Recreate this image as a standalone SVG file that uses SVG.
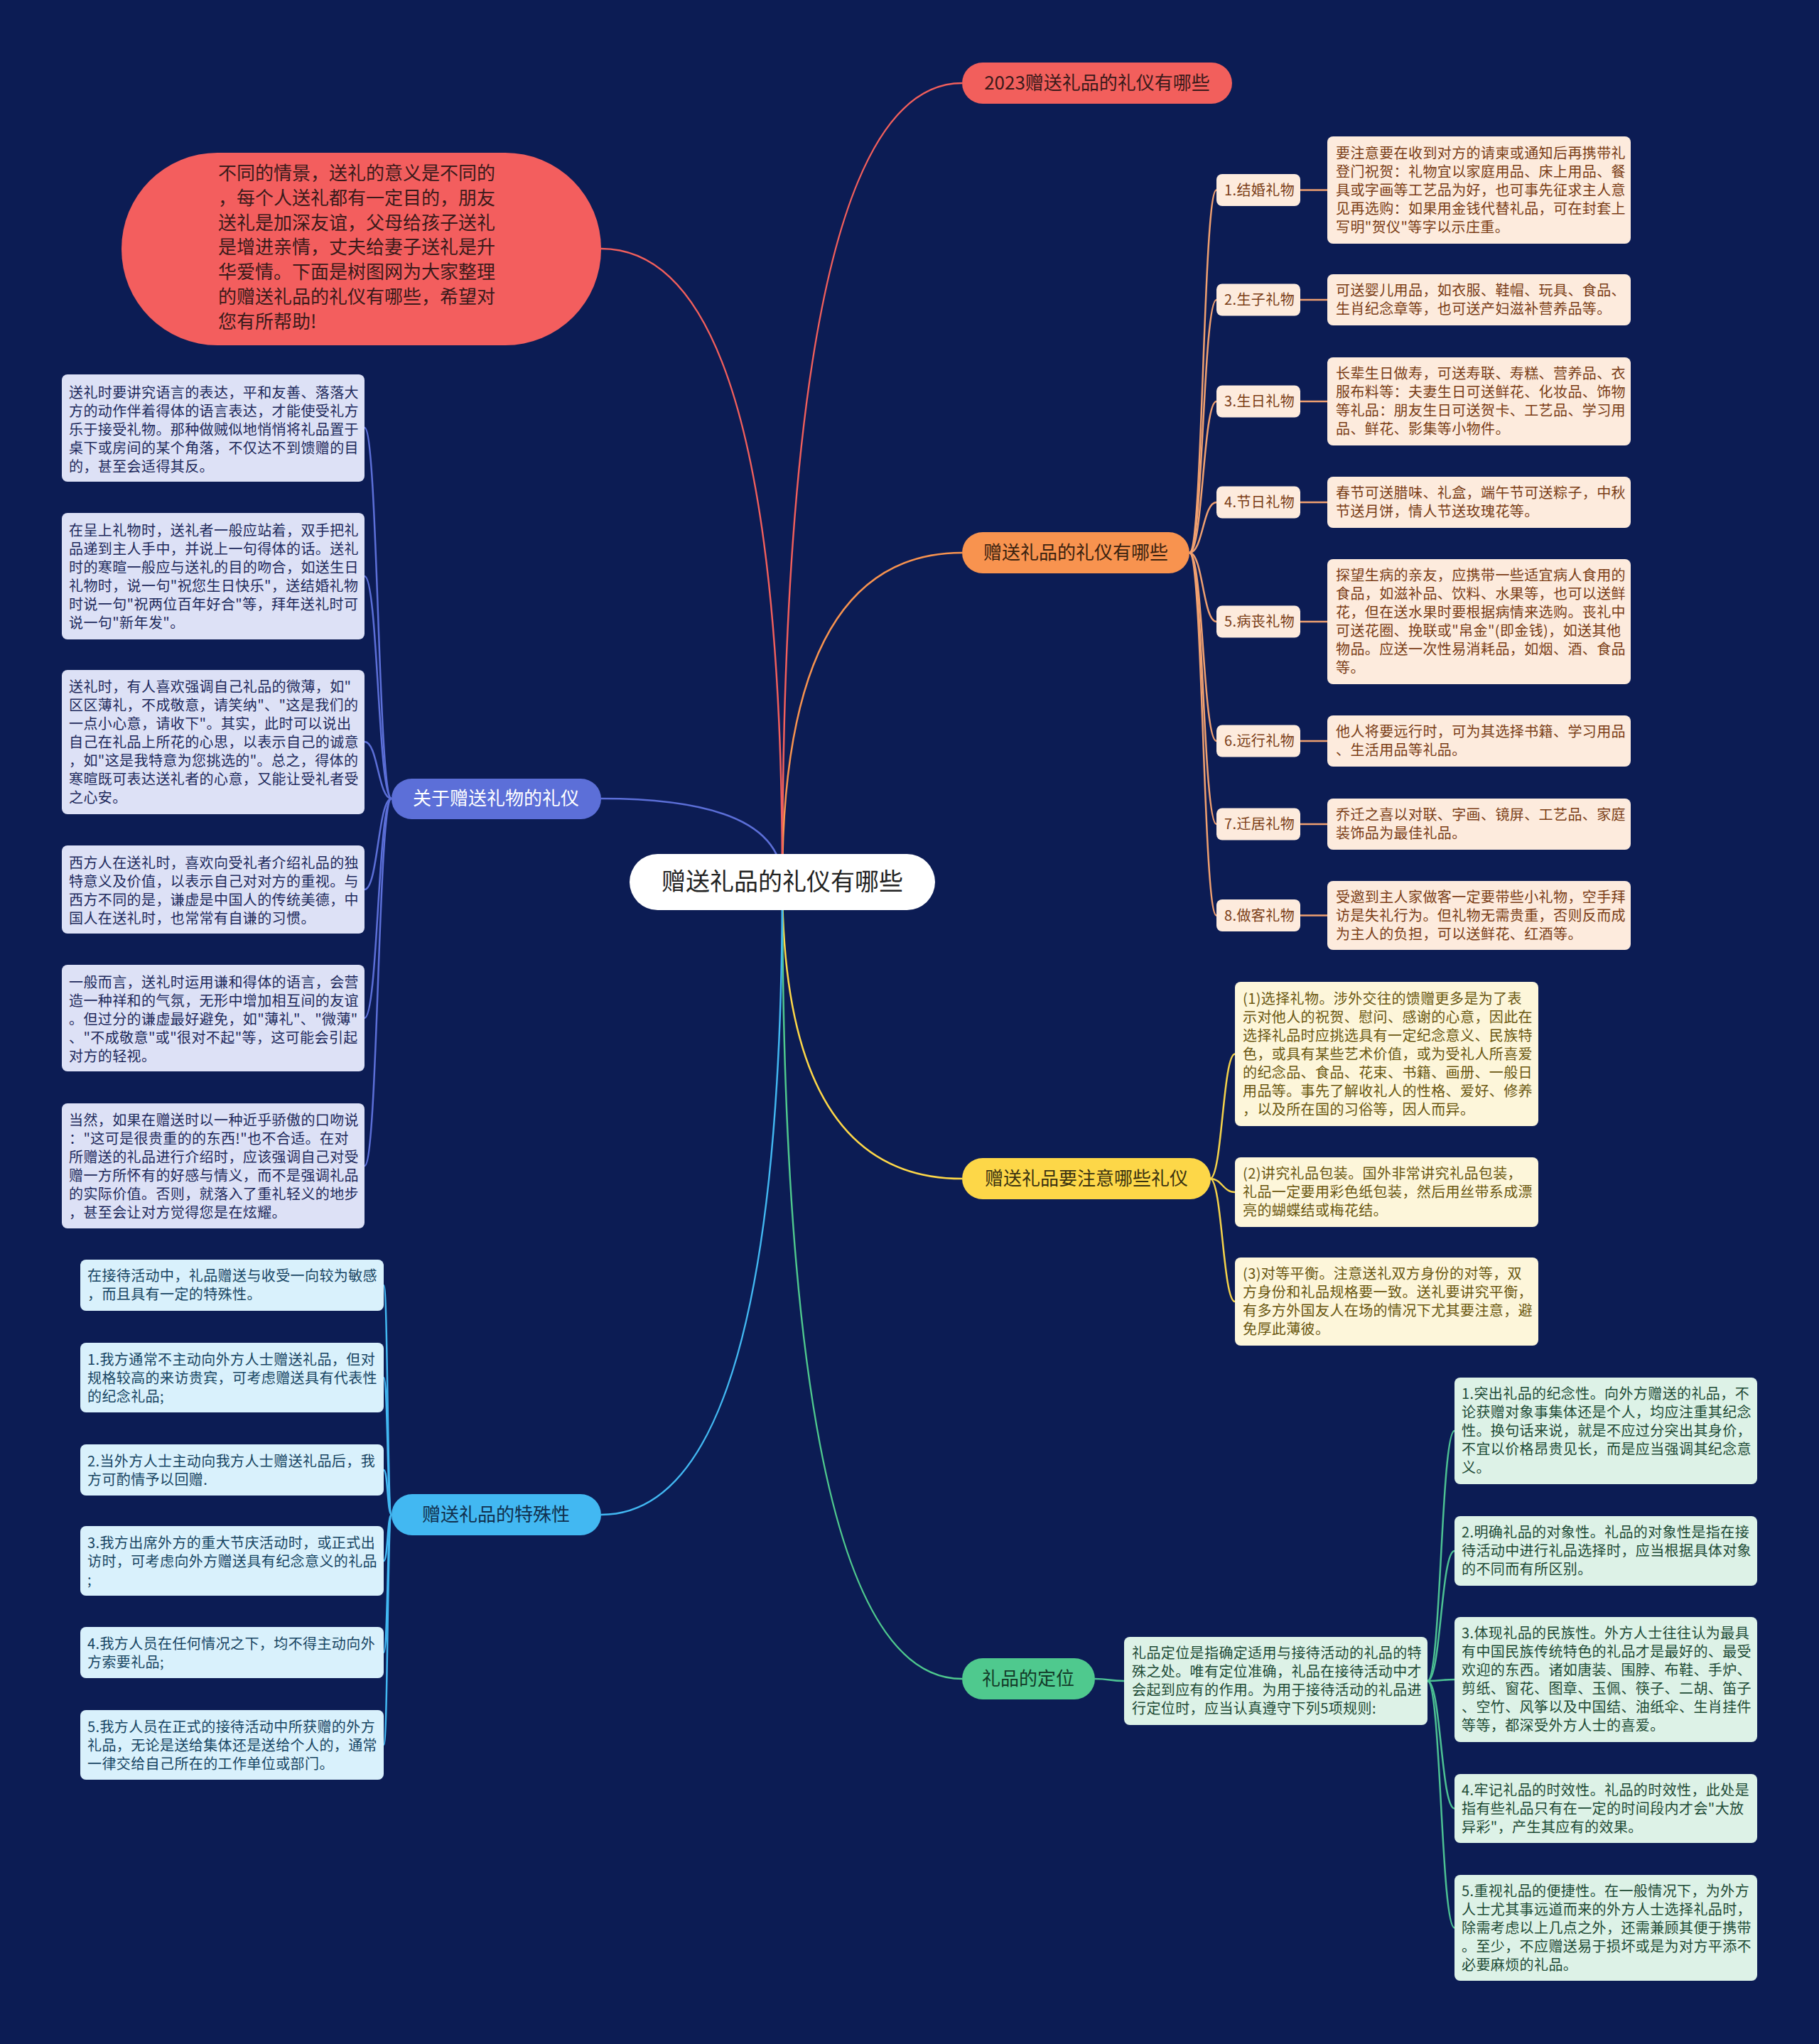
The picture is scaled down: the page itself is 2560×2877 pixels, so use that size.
<svg xmlns="http://www.w3.org/2000/svg" width="2560" height="2877" viewBox="0 0 2560 2877">
<style>
text{font-family:"Noto Sans CJK SC","Noto Sans",sans-serif;}
.t20{font-size:20px;letter-spacing:0.4px;}
.t26{font-size:26px;}
.lv{fill:#DDE1F6;}
.lvt{fill:#1E2A5C;}
.cy{fill:#D9F1FC;}
.cyt{fill:#174563;}
.pe{fill:#FDEBDD;}
.pet{fill:#7A3D16;}
.ye{fill:#FDF6DA;}
.yet{fill:#6A5710;}
.gr{fill:#DDF2E7;}
.grt{fill:#1E4B36;}
.cn{fill:none;stroke-width:2.5;}
</style>
<rect x="0" y="0" width="2560" height="2877" fill="#0C1C54"/>

<g id="connectors">
  <path class="cn" stroke="#F25F5C" d="M1101 1241 Q1101 117 1354 117"/>
  <path class="cn" stroke="#F8934F" d="M1101 1241 Q1101 778 1354 778"/>
  <path class="cn" stroke="#FDD748" d="M1101 1241 Q1101 1659 1354 1659"/>
  <path class="cn" stroke="#4FC98E" d="M1101 1241 Q1101 2363 1354 2363"/>
  <path class="cn" stroke="#5C6FD8" d="M1101 1241 Q1101 1124 846 1124"/>
  <path class="cn" stroke="#42B8F2" d="M1101 1241 Q1101 2132 846 2132"/>
  <path class="cn" stroke="#F25F5C" d="M1101 1241 Q1101 350 846 350"/>

  <g stroke="#5C6FD8" class="cn">
    <path class="cn" d="M551 1124 C532 1124 532 602 513 602"/>
    <path class="cn" d="M551 1124 C532 1124 532 811 513 811"/>
    <path class="cn" d="M551 1124 C532 1124 532 1044 513 1044"/>
    <path class="cn" d="M551 1124 C532 1124 532 1252 513 1252"/>
    <path class="cn" d="M551 1124 C532 1124 532 1433 513 1433"/>
    <path class="cn" d="M551 1124 C532 1124 532 1641 513 1641"/>
  </g>
  <g stroke="#42B8F2" class="cn">
    <path class="cn" d="M551 2132 C545 2132 546 1809 540 1809"/>
    <path class="cn" d="M551 2132 C545 2132 546 1939 540 1939"/>
    <path class="cn" d="M551 2132 C545 2132 546 2069 540 2069"/>
    <path class="cn" d="M551 2132 C545 2132 546 2197 540 2197"/>
    <path class="cn" d="M551 2132 C545 2132 546 2326 540 2326"/>
    <path class="cn" d="M551 2132 C545 2132 546 2456 540 2456"/>
  </g>
  <g stroke="#F0A070" class="cn">
    <path class="cn" d="M1674 778 C1693 778 1693 267.5 1712 267.5"/>
    <path class="cn" d="M1674 778 C1693 778 1693 422 1712 422"/>
    <path class="cn" d="M1674 778 C1693 778 1693 565 1712 565"/>
    <path class="cn" d="M1674 778 C1693 778 1693 707 1712 707"/>
    <path class="cn" d="M1674 778 C1693 778 1693 875 1712 875"/>
    <path class="cn" d="M1674 778 C1693 778 1693 1043 1712 1043"/>
    <path class="cn" d="M1674 778 C1693 778 1693 1160 1712 1160"/>
    <path class="cn" d="M1674 778 C1693 778 1693 1288.5 1712 1288.5"/>
    <path class="cn" stroke-width="3.5" d="M1830 267.5 H1868 M1830 422 H1868 M1830 565 H1868 M1830 707 H1868 M1830 875 H1868 M1830 1043 H1868 M1830 1160 H1868 M1830 1288.5 H1868"/>
  </g>
  <g stroke="#F4D24A" class="cn">
    <path class="cn" d="M1703 1659 C1720 1659 1721 1483.5 1738 1483.5"/>
    <path class="cn" d="M1703 1659 C1720 1659 1721 1678 1738 1678"/>
    <path class="cn" d="M1703 1659 C1720 1659 1721 1832 1738 1832"/>
  </g>
  <g stroke="#4CC193" class="cn">
    <path class="cn" d="M1541 2363 C1561 2363 1562 2366 1582 2366"/>
    <path class="cn" d="M2009 2366 C2028 2366 2028 2014 2047 2014"/>
    <path class="cn" d="M2009 2366 C2028 2366 2028 2183 2047 2183"/>
    <path class="cn" d="M2009 2366 C2028 2366 2028 2364 2047 2364"/>
    <path class="cn" d="M2009 2366 C2028 2366 2028 2545.5 2047 2545.5"/>
    <path class="cn" d="M2009 2366 C2028 2366 2028 2713.5 2047 2713.5"/>
  </g>
</g>

<g id="root">
  <rect x="886" y="1202" width="430" height="79" rx="39.5" fill="#FFFFFF"/>
  <text x="1101" y="1253" font-size="34" fill="#222222" text-anchor="middle">赠送礼品的礼仪有哪些</text>
</g>

<g id="intro">
  <rect x="171" y="215" width="675" height="271" rx="135" fill="#F35E5E"/>
  <text class="t26" fill="#3A1A1A">
    <tspan x="307" y="253">不同的情景，送礼的意义是不同的</tspan>
    <tspan x="307" y="288">，每个人送礼都有一定目的，朋友</tspan>
    <tspan x="307" y="323">送礼是加深友谊，父母给孩子送礼</tspan>
    <tspan x="307" y="357">是增进亲情，丈夫给妻子送礼是升</tspan>
    <tspan x="307" y="392">华爱情。下面是树图网为大家整理</tspan>
    <tspan x="307" y="427">的赠送礼品的礼仪有哪些，希望对</tspan>
    <tspan x="307" y="462">您有所帮助!</tspan>
  </text>
</g>

<g id="b-2023">
  <rect x="1354" y="88" width="380" height="58" rx="29" fill="#F25F5C"/>
  <text class="t26" x="1544" y="126" fill="#3A1A1A" text-anchor="middle">2023赠送礼品的礼仪有哪些</text>
</g>
<g id="b-etiquette">
  <rect x="1354" y="749" width="320" height="58" rx="29" fill="#F8934F"/>
  <text class="t26" x="1514" y="787" fill="#3A220F" text-anchor="middle">赠送礼品的礼仪有哪些</text>
</g>
<g id="b-attention">
  <rect x="1354" y="1630" width="350" height="58" rx="29" fill="#FDD748"/>
  <text class="t26" x="1529" y="1668" fill="#3A3210" text-anchor="middle">赠送礼品要注意哪些礼仪</text>
</g>
<g id="b-position">
  <rect x="1354" y="2334" width="187" height="58" rx="29" fill="#4FC98E"/>
  <text class="t26" x="1447" y="2372" fill="#123A28" text-anchor="middle">礼品的定位</text>
</g>
<g id="b-about">
  <rect x="551" y="1096" width="295" height="57" rx="28.5" fill="#5C6FD8"/>
  <text class="t26" x="698" y="1133" fill="#FFFFFF" text-anchor="middle">关于赠送礼物的礼仪</text>
</g>
<g id="b-special">
  <rect x="551" y="2103" width="295" height="58" rx="29" fill="#42B8F2"/>
  <text class="t26" x="698" y="2141" fill="#10304E" text-anchor="middle">赠送礼品的特殊性</text>
</g>

<g id="about-1"><rect class="lv" x="87" y="527" width="426" height="151" rx="8"/>
<text class="t20 lvt"><tspan x="97" y="560">送礼时要讲究语言的表达，平和友善、落落大</tspan><tspan x="97" y="586">方的动作伴着得体的语言表达，才能使受礼方</tspan><tspan x="97" y="612">乐于接受礼物。那种做贼似地悄悄将礼品置于</tspan><tspan x="97" y="638">桌下或房间的某个角落，不仅达不到馈赠的目</tspan><tspan x="97" y="664">的，甚至会适得其反。</tspan></text></g>
<g id="about-2"><rect class="lv" x="87" y="722" width="426" height="178" rx="8"/>
<text class="t20 lvt"><tspan x="97" y="754">在呈上礼物时，送礼者一般应站着，双手把礼</tspan><tspan x="97" y="780">品递到主人手中，并说上一句得体的话。送礼</tspan><tspan x="97" y="806">时的寒暄一般应与送礼的目的吻合，如送生日</tspan><tspan x="97" y="832">礼物时，说一句"祝您生日快乐"，送结婚礼物</tspan><tspan x="97" y="858">时说一句"祝两位百年好合"等，拜年送礼时可</tspan><tspan x="97" y="884">说一句"新年发"。</tspan></text></g>
<g id="about-3"><rect class="lv" x="87" y="943" width="426" height="203" rx="8"/>
<text class="t20 lvt"><tspan x="97" y="974">送礼时，有人喜欢强调自己礼品的微薄，如"</tspan><tspan x="97" y="1000">区区薄礼，不成敬意，请笑纳"、"这是我们的</tspan><tspan x="97" y="1026">一点小心意，请收下"。其实，此时可以说出</tspan><tspan x="97" y="1052">自己在礼品上所花的心思，以表示自己的诚意</tspan><tspan x="97" y="1078">，如"这是我特意为您挑选的"。总之，得体的</tspan><tspan x="97" y="1104">寒暄既可表达送礼者的心意，又能让受礼者受</tspan><tspan x="97" y="1130">之心安。</tspan></text></g>
<g id="about-4"><rect class="lv" x="87" y="1190" width="426" height="124" rx="8"/>
<text class="t20 lvt"><tspan x="97" y="1222">西方人在送礼时，喜欢向受礼者介绍礼品的独</tspan><tspan x="97" y="1248">特意义及价值，以表示自己对对方的重视。与</tspan><tspan x="97" y="1274">西方不同的是，谦虚是中国人的传统美德，中</tspan><tspan x="97" y="1300">国人在送礼时，也常常有自谦的习惯。</tspan></text></g>
<g id="about-5"><rect class="lv" x="87" y="1358" width="426" height="150" rx="8"/>
<text class="t20 lvt"><tspan x="97" y="1390">一般而言，送礼时运用谦和得体的语言，会营</tspan><tspan x="97" y="1416">造一种祥和的气氛，无形中增加相互间的友谊</tspan><tspan x="97" y="1442">。但过分的谦虚最好避免，如"薄礼"、"微薄"</tspan><tspan x="97" y="1468">、"不成敬意"或"很对不起"等，这可能会引起</tspan><tspan x="97" y="1494">对方的轻视。</tspan></text></g>
<g id="about-6"><rect class="lv" x="87" y="1553" width="426" height="176" rx="8"/>
<text class="t20 lvt"><tspan x="97" y="1584">当然，如果在赠送时以一种近乎骄傲的口吻说</tspan><tspan x="97" y="1610">："这可是很贵重的的东西!"也不合适。在对</tspan><tspan x="97" y="1636">所赠送的礼品进行介绍时，应该强调自己对受</tspan><tspan x="97" y="1662">赠一方所怀有的好感与情义，而不是强调礼品</tspan><tspan x="97" y="1688">的实际价值。否则，就落入了重礼轻义的地步</tspan><tspan x="97" y="1714">，甚至会让对方觉得您是在炫耀。</tspan></text></g>

<g id="special-0"><rect class="cy" x="113" y="1773" width="427" height="72" rx="8"/>
<text class="t20 cyt"><tspan x="123" y="1803">在接待活动中，礼品赠送与收受一向较为敏感</tspan><tspan x="123" y="1829">，而且具有一定的特殊性。</tspan></text></g>
<g id="special-1"><rect class="cy" x="113" y="1890" width="427" height="98" rx="8"/>
<text class="t20 cyt"><tspan x="123" y="1921">1.我方通常不主动向外方人士赠送礼品，但对</tspan><tspan x="123" y="1947">规格较高的来访贵宾，可考虑赠送具有代表性</tspan><tspan x="123" y="1973">的纪念礼品;</tspan></text></g>
<g id="special-2"><rect class="cy" x="113" y="2033" width="427" height="72" rx="8"/>
<text class="t20 cyt"><tspan x="123" y="2064">2.当外方人士主动向我方人士赠送礼品后，我</tspan><tspan x="123" y="2090">方可酌情予以回赠.</tspan></text></g>
<g id="special-3"><rect class="cy" x="113" y="2148" width="427" height="98" rx="8"/>
<text class="t20 cyt"><tspan x="123" y="2179">3.我方出席外方的重大节庆活动时，或正式出</tspan><tspan x="123" y="2205">访时，可考虑向外方赠送具有纪念意义的礼品</tspan><tspan x="123" y="2231">;</tspan></text></g>
<g id="special-4"><rect class="cy" x="113" y="2290" width="427" height="72" rx="8"/>
<text class="t20 cyt"><tspan x="123" y="2321">4.我方人员在任何情况之下，均不得主动向外</tspan><tspan x="123" y="2347">方索要礼品;</tspan></text></g>
<g id="special-5"><rect class="cy" x="113" y="2407" width="427" height="98" rx="8"/>
<text class="t20 cyt"><tspan x="123" y="2438">5.我方人员在正式的接待活动中所获赠的外方</tspan><tspan x="123" y="2464">礼品，无论是送给集体还是送给个人的，通常</tspan><tspan x="123" y="2490">一律交给自己所在的工作单位或部门。</tspan></text></g>

<g id="label-1"><rect class="pe" x="1712" y="245" width="118" height="45" rx="8"/><text class="t20 pet" x="1723" y="274.5">1.结婚礼物</text></g>
<g id="label-2"><rect class="pe" x="1712" y="399.5" width="118" height="45" rx="8"/><text class="t20 pet" x="1723" y="429">2.生子礼物</text></g>
<g id="label-3"><rect class="pe" x="1712" y="542.5" width="118" height="45" rx="8"/><text class="t20 pet" x="1723" y="572">3.生日礼物</text></g>
<g id="label-4"><rect class="pe" x="1712" y="684.5" width="118" height="45" rx="8"/><text class="t20 pet" x="1723" y="714">4.节日礼物</text></g>
<g id="label-5"><rect class="pe" x="1712" y="852.5" width="118" height="45" rx="8"/><text class="t20 pet" x="1723" y="882">5.病丧礼物</text></g>
<g id="label-6"><rect class="pe" x="1712" y="1020.5" width="118" height="45" rx="8"/><text class="t20 pet" x="1723" y="1050">6.远行礼物</text></g>
<g id="label-7"><rect class="pe" x="1712" y="1137.5" width="118" height="45" rx="8"/><text class="t20 pet" x="1723" y="1167">7.迁居礼物</text></g>
<g id="label-8"><rect class="pe" x="1712" y="1266" width="118" height="45" rx="8"/><text class="t20 pet" x="1723" y="1295.5">8.做客礼物</text></g>

<g id="detail-1"><rect class="pe" x="1868" y="192" width="427" height="151" rx="8"/>
<text class="t20 pet"><tspan x="1880" y="223">要注意要在收到对方的请柬或通知后再携带礼</tspan><tspan x="1880" y="249">登门祝贺：礼物宜以家庭用品、床上用品、餐</tspan><tspan x="1880" y="275">具或字画等工艺品为好，也可事先征求主人意</tspan><tspan x="1880" y="301">见再选购：如果用金钱代替礼品，可在封套上</tspan><tspan x="1880" y="327">写明"贺仪"等字以示庄重。</tspan></text></g>
<g id="detail-2"><rect class="pe" x="1868" y="386" width="427" height="72" rx="8"/>
<text class="t20 pet"><tspan x="1880" y="416">可送婴儿用品，如衣服、鞋帽、玩具、食品、</tspan><tspan x="1880" y="442">生肖纪念章等，也可送产妇滋补营养品等。</tspan></text></g>
<g id="detail-3"><rect class="pe" x="1868" y="503" width="427" height="124" rx="8"/>
<text class="t20 pet"><tspan x="1880" y="533">长辈生日做寿，可送寿联、寿糕、营养品、衣</tspan><tspan x="1880" y="559">服布料等：夫妻生日可送鲜花、化妆品、饰物</tspan><tspan x="1880" y="585">等礼品：朋友生日可送贺卡、工艺品、学习用</tspan><tspan x="1880" y="611">品、鲜花、影集等小物件。</tspan></text></g>
<g id="detail-4"><rect class="pe" x="1868" y="671" width="427" height="72" rx="8"/>
<text class="t20 pet"><tspan x="1880" y="701">春节可送腊味、礼盒，端午节可送粽子，中秋</tspan><tspan x="1880" y="727">节送月饼，情人节送玫瑰花等。</tspan></text></g>
<g id="detail-5"><rect class="pe" x="1868" y="787" width="427" height="176" rx="8"/>
<text class="t20 pet"><tspan x="1880" y="817">探望生病的亲友，应携带一些适宜病人食用的</tspan><tspan x="1880" y="843">食品，如滋补品、饮料、水果等，也可以送鲜</tspan><tspan x="1880" y="869">花，但在送水果时要根据病情来选购。丧礼中</tspan><tspan x="1880" y="895">可送花圈、挽联或"帛金"(即金钱)，如送其他</tspan><tspan x="1880" y="921">物品。应送一次性易消耗品，如烟、酒、食品</tspan><tspan x="1880" y="947">等。</tspan></text></g>
<g id="detail-6"><rect class="pe" x="1868" y="1007" width="427" height="72" rx="8"/>
<text class="t20 pet"><tspan x="1880" y="1037">他人将要远行时，可为其选择书籍、学习用品</tspan><tspan x="1880" y="1063">、生活用品等礼品。</tspan></text></g>
<g id="detail-7"><rect class="pe" x="1868" y="1124" width="427" height="72" rx="8"/>
<text class="t20 pet"><tspan x="1880" y="1154">乔迁之喜以对联、字画、镜屏、工艺品、家庭</tspan><tspan x="1880" y="1180">装饰品为最佳礼品。</tspan></text></g>
<g id="detail-8"><rect class="pe" x="1868" y="1240" width="427" height="97" rx="8"/>
<text class="t20 pet"><tspan x="1880" y="1270">受邀到主人家做客一定要带些小礼物，空手拜</tspan><tspan x="1880" y="1296">访是失礼行为。但礼物无需贵重，否则反而成</tspan><tspan x="1880" y="1322">为主人的负担，可以送鲜花、红酒等。</tspan></text></g>

<g id="attn-1"><rect class="ye" x="1738" y="1382" width="427" height="203" rx="8"/>
<text class="t20 yet"><tspan x="1749" y="1413">(1)选择礼物。涉外交往的馈赠更多是为了表</tspan><tspan x="1749" y="1439">示对他人的祝贺、慰问、感谢的心意，因此在</tspan><tspan x="1749" y="1465">选择礼品时应挑选具有一定纪念意义、民族特</tspan><tspan x="1749" y="1491">色，或具有某些艺术价值，或为受礼人所喜爱</tspan><tspan x="1749" y="1517">的纪念品、食品、花束、书籍、画册、一般日</tspan><tspan x="1749" y="1543">用品等。事先了解收礼人的性格、爱好、修养</tspan><tspan x="1749" y="1569">，以及所在国的习俗等，因人而异。</tspan></text></g>
<g id="attn-2"><rect class="ye" x="1738" y="1629" width="427" height="98" rx="8"/>
<text class="t20 yet"><tspan x="1749" y="1659">(2)讲究礼品包装。国外非常讲究礼品包装，</tspan><tspan x="1749" y="1685">礼品一定要用彩色纸包装，然后用丝带系成漂</tspan><tspan x="1749" y="1711">亮的蝴蝶结或梅花结。</tspan></text></g>
<g id="attn-3"><rect class="ye" x="1738" y="1770" width="427" height="124" rx="8"/>
<text class="t20 yet"><tspan x="1749" y="1800">(3)对等平衡。注意送礼双方身份的对等，双</tspan><tspan x="1749" y="1826">方身份和礼品规格要一致。送礼要讲究平衡，</tspan><tspan x="1749" y="1852">有多方外国友人在场的情况下尤其要注意，避</tspan><tspan x="1749" y="1878">免厚此薄彼。</tspan></text></g>

<g id="pos-0"><rect class="gr" x="1582" y="2304" width="427" height="124" rx="8"/>
<text class="t20 grt"><tspan x="1593" y="2334">礼品定位是指确定适用与接待活动的礼品的特</tspan><tspan x="1593" y="2360">殊之处。唯有定位准确，礼品在接待活动中才</tspan><tspan x="1593" y="2386">会起到应有的作用。为用于接待活动的礼品进</tspan><tspan x="1593" y="2412">行定位时，应当认真遵守下列5项规则:</tspan></text></g>
<g id="pos-1"><rect class="gr" x="2047" y="1939" width="426" height="150" rx="8"/>
<text class="t20 grt"><tspan x="2057" y="1969">1.突出礼品的纪念性。向外方赠送的礼品，不</tspan><tspan x="2057" y="1995">论获赠对象事集体还是个人，均应注重其纪念</tspan><tspan x="2057" y="2021">性。换句话来说，就是不应过分突出其身价，</tspan><tspan x="2057" y="2047">不宜以价格昂贵见长，而是应当强调其纪念意</tspan><tspan x="2057" y="2073">义。</tspan></text></g>
<g id="pos-2"><rect class="gr" x="2047" y="2134" width="426" height="98" rx="8"/>
<text class="t20 grt"><tspan x="2057" y="2164">2.明确礼品的对象性。礼品的对象性是指在接</tspan><tspan x="2057" y="2190">待活动中进行礼品选择时，应当根据具体对象</tspan><tspan x="2057" y="2216">的不同而有所区别。</tspan></text></g>
<g id="pos-3"><rect class="gr" x="2047" y="2276" width="426" height="176" rx="8"/>
<text class="t20 grt"><tspan x="2057" y="2306">3.体现礼品的民族性。外方人士往往认为最具</tspan><tspan x="2057" y="2332">有中国民族传统特色的礼品才是最好的、最受</tspan><tspan x="2057" y="2358">欢迎的东西。诸如唐装、围脖、布鞋、手炉、</tspan><tspan x="2057" y="2384">剪纸、窗花、图章、玉佩、筷子、二胡、笛子</tspan><tspan x="2057" y="2410">、空竹、风筝以及中国结、油纸伞、生肖挂件</tspan><tspan x="2057" y="2436">等等，都深受外方人士的喜爱。</tspan></text></g>
<g id="pos-4"><rect class="gr" x="2047" y="2497" width="426" height="97" rx="8"/>
<text class="t20 grt"><tspan x="2057" y="2527">4.牢记礼品的时效性。礼品的时效性，此处是</tspan><tspan x="2057" y="2553">指有些礼品只有在一定的时间段内才会"大放</tspan><tspan x="2057" y="2579">异彩"，产生其应有的效果。</tspan></text></g>
<g id="pos-5"><rect class="gr" x="2047" y="2639" width="426" height="149" rx="8"/>
<text class="t20 grt"><tspan x="2057" y="2669">5.重视礼品的便捷性。在一般情况下，为外方</tspan><tspan x="2057" y="2695">人士尤其事远道而来的外方人士选择礼品时，</tspan><tspan x="2057" y="2721">除需考虑以上几点之外，还需兼顾其便于携带</tspan><tspan x="2057" y="2747">。至少，不应赠送易于损坏或是为对方平添不</tspan><tspan x="2057" y="2773">必要麻烦的礼品。</tspan></text></g>
</svg>
